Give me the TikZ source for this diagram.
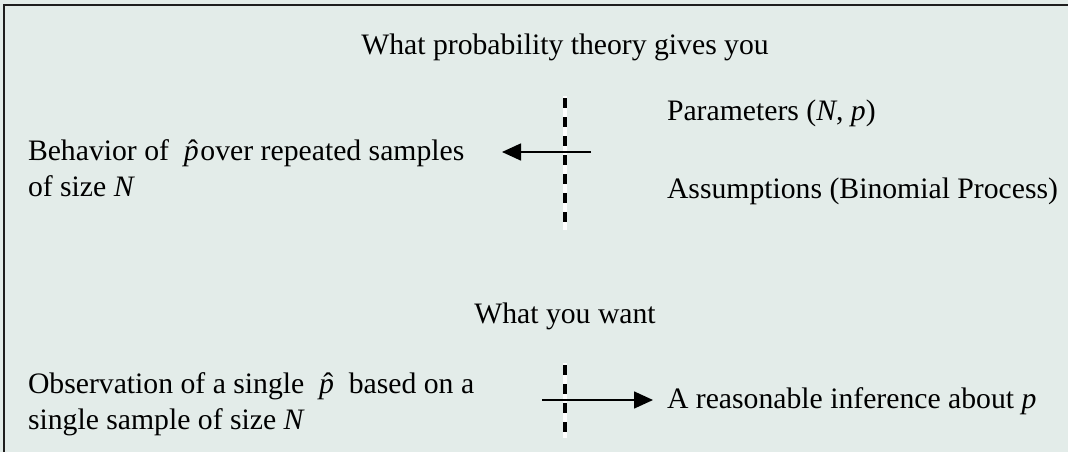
\documentclass[tikz,border=0pt]{standalone}
\usepackage{fontspec}
\setmainfont{Liberation Serif}
\usetikzlibrary{arrows.meta}
\definecolor{bg}{RGB}{227,236,233}
\definecolor{frame}{RGB}{30,30,30}
\newcommand\phat{{\ooalign{\textit{p}\cr\hidewidth\kern0.12em\char"02C6\hidewidth\cr}}}
\begin{document}
\begin{tikzpicture}[x=1pt,y=-1pt,
  every node/.style={font=\fontsize{29.7}{36}\selectfont, inner sep=0pt, outer sep=0pt},
  lbl/.style={anchor=base west},
  ttl/.style={anchor=base},
  arr/.style={line width=1.6pt, -{Triangle[length=19pt,width=17pt]}},
  sepwhite/.style={white, line width=4pt},
  sepdash/.style={black, line width=4pt, dash pattern=on 9.5pt off 9.5pt, dash phase=-2pt}]
\fill[bg] (0,0) rectangle (1068,452);
\useasboundingbox (0,0) rectangle (1068,452);
\draw[line width=1.5pt, frame] (4,453) -- (4,5) -- (1069,5);

\node[ttl] (title) at (565,55) {What probability theory gives you};
\node[lbl] (params) at (667,120) {Parameters (\textit{N}, \textit{p})};
\node[lbl] (assump) at (667,198) {Assumptions (Binomial Process)};
\node[lbl] (behav1) at (28,160) {Behavior of\ \ \phat\hspace{0.06em}over repeated samples};
\node[lbl] (behav2) at (28,196) {of size \textit{N}};

\node[ttl] (want) at (565,323) {What you want};
\node[lbl] (obs1) at (28,393) {Observation of a single\ \ \phat\ \ based on a};
\node[lbl] (obs2) at (28,429) {single sample of size \textit{N}};
\node[lbl] (infer) at (667,408) {A reasonable inference about \textit{p}};

\coordinate (d1a) at (565,96);
\coordinate (d1b) at (565,230);
\coordinate (d2a) at (565,363);
\coordinate (d2b) at (565,438);
\draw[sepwhite] (d1a) -- (d1b);
\draw[sepdash] (d1a) -- (d1b);
\draw[sepwhite] (d2a) -- (d2b);
\draw[sepdash] (d2a) -- (d2b);

\coordinate (u1) at (591,152);
\coordinate (u2) at (502,152);
\coordinate (l1) at (542,400);
\coordinate (l2) at (653,400);
\draw[arr] (u1) -- (u2);
\draw[arr] (l1) -- (l2);
\end{tikzpicture}
\end{document}
